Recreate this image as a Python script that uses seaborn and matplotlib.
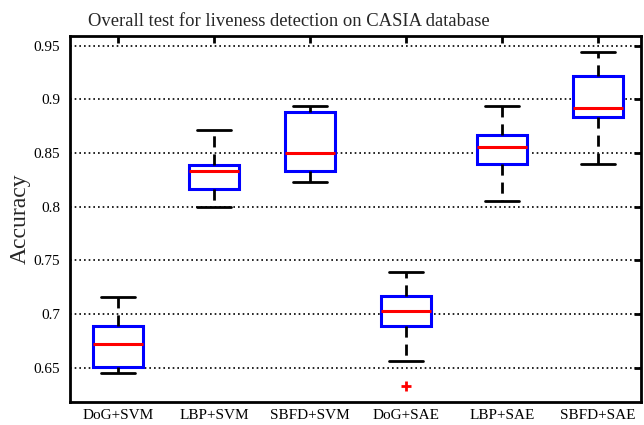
import numpy as np
import pandas as pd
import matplotlib
matplotlib.use("Agg")
import matplotlib.pyplot as plt
import seaborn as sns

methods = ["DoG+SVM", "LBP+SVM", "SBFD+SVM", "DoG+SAE", "LBP+SAE", "SBFD+SAE"]
lows = [0.645, 0.800, 0.8227, 0.6558, 0.8054, 0.8395]
q1s = [0.6505, 0.8166, 0.833, 0.6887, 0.8395, 0.8832]
medians = [0.6725, 0.8336, 0.850, 0.7026, 0.8553, 0.8916]
q3s = [0.6887, 0.8392, 0.8885, 0.7172, 0.8671, 0.9221]
highs = [0.7157, 0.8718, 0.8935, 0.7389, 0.8935, 0.9444]
outliers = [[], [], [], [0.6328], [], []]
yticks = [0.65, 0.7, 0.75, 0.8, 0.85, 0.9, 0.95]
ytick_labels = ["0.65", "0.7", "0.75", "0.8", "0.85", "0.9", "0.95"]

rows = []
for m, lo, a, md, b, hi, out in zip(methods, lows, q1s, medians, q3s, highs, outliers):
    # values laid out so the 25/50/75 percentiles equal the read box statistics
    vals = [lo, lo, a, a, md, b, b, b, hi]
    if out:
        vals[0] = out[0]
    for v in vals:
        rows.append({"method": m, "acc": v})
df = pd.DataFrame(rows)

sns.set_style("white")
plt.rcParams["font.family"] = ["Liberation Serif", "DejaVu Serif"]

fig = plt.figure(figsize=(6.44, 4.25), dpi=100)
ax = fig.add_axes([70 / 644, 1 - 402 / 425, (641 - 70) / 644, (402 - 36) / 425])

sns.boxplot(
    data=df, x="method", y="acc", order=methods, ax=ax,
    width=0.52, whis=1.5, color="white", linecolor="blue", linewidth=2,
    boxprops=dict(facecolor="white", edgecolor="#0000ff", linewidth=2.2),
    medianprops=dict(color="#ff0000", linewidth=2.2),
    whiskerprops=dict(color="black", linestyle=(0, (4, 2.5)), linewidth=2),
    capprops=dict(color="black", linewidth=2),
    flierprops=dict(marker="+", markeredgecolor="#ff0000", markersize=7, markeredgewidth=2),
    capwidths=0.36,
)

ax.set_xlim(-0.5, 5.45)
ax.set_ylim(0.618, 0.959)
ax.set_yticks(yticks)
ax.set_yticklabels(ytick_labels)
ax.yaxis.grid(True, linestyle=(0, (1, 1.8)), color="black", linewidth=1.2)
ax.set_axisbelow(True)
for s in ax.spines.values():
    s.set_visible(True)
    s.set_color("black")
    s.set_linewidth(2)
ax.tick_params(direction="in", length=5, width=2, top=True, right=True,
               labelsize=11, colors="black")
ax.tick_params(axis="x", pad=5)
ax.tick_params(axis="y", pad=7)
ax.set_xlabel("")
ax.set_ylabel("Accuracy", fontsize=17, labelpad=2)
ax.set_title("Overall test for liveness detection on CASIA database",
             fontsize=13.4, x=(289 - 70) / (641 - 70), pad=7)

fig.savefig("out.png", dpi=100)
